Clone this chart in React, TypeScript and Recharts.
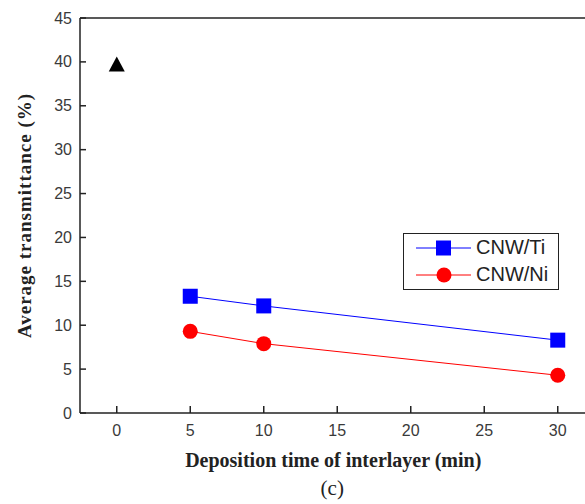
import { ComposedChart, Line, Scatter, XAxis, YAxis, ReferenceLine, Label } from "recharts";

const xTicks = [0, 5, 10, 15, 20, 25, 30];
const yTicks = [0, 5, 10, 15, 20, 25, 30, 35, 40, 45];

const times = [5, 10, 30];
const tiValues = [13.3, 12.2, 8.3];
const niValues = [9.3, 7.9, 4.3];

const bareTime = [0];
const bareValue = [39.6];

const tiData = times.map((t, i) => ({ x: t, y: tiValues[i] }));
const niData = times.map((t, i) => ({ x: t, y: niValues[i] }));
const bareData = bareTime.map((t, i) => ({ x: t, y: bareValue[i] }));

const tickFont = { fontFamily: "'Liberation Sans', Arial, sans-serif", fontSize: 16, fill: "#3a3a3a" };
const serif = "'Liberation Serif', 'Times New Roman', serif";

const YTick = (props: any) => {
  const { x, y, payload } = props;
  return (
    <g>
      <line x1={x} y1={y} x2={x + 6} y2={y} stroke="#222" strokeWidth={1.5} />
      <text x={x - 8} y={y} textAnchor="end" dominantBaseline="central" {...tickFont}>
        {payload.value}
      </text>
    </g>
  );
};

const XTick = (props: any) => {
  const { x, y, payload } = props;
  return (
    <g>
      <line x1={x} y1={y} x2={x} y2={y - 7} stroke="#222" strokeWidth={1.5} />
      <text x={x} y={y + 17} textAnchor="middle" dominantBaseline="central" {...tickFont}>
        {payload.value}
      </text>
    </g>
  );
};

const SquareDot = (props: any) => {
  const { cx, cy } = props;
  if (cx == null || cy == null) return null;
  return <rect x={cx - 7.5} y={cy - 7.5} width={15} height={15} fill="#0000ff" />;
};

const CircleDot = (props: any) => {
  const { cx, cy } = props;
  if (cx == null || cy == null) return null;
  return <circle cx={cx} cy={cy} r={7.5} fill="#ff0000" />;
};

const TriangleDot = (props: any) => {
  const { cx, cy } = props;
  if (cx == null || cy == null) return null;
  return <polygon points={`${cx},${cy - 9} ${cx - 8},${cy + 6} ${cx + 8},${cy + 6}`} fill="#000" />;
};

const LegendBox = () => (
  <div
    style={{
      position: "absolute",
      left: 403,
      top: 233,
      width: 156,
      height: 57,
      border: "1.5px solid #222",
      background: "#fff",
      boxSizing: "border-box",
      fontFamily: "'Liberation Sans', Arial, sans-serif",
      fontSize: 20,
      color: "#222",
    }}
  >
    <div style={{ display: "flex", alignItems: "center", height: 27, marginTop: 0 }}>
      <svg width={72} height={20}>
        <line x1={12} y1={10} x2={67} y2={10} stroke="#0000ff" strokeWidth={1} />
        <rect x={32} y={2.5} width={15} height={15} fill="#0000ff" />
      </svg>
      <span>CNW/Ti</span>
    </div>
    <div style={{ display: "flex", alignItems: "center", height: 27 }}>
      <svg width={72} height={20}>
        <line x1={12} y1={10} x2={67} y2={10} stroke="#ff0000" strokeWidth={1} />
        <circle cx={40} cy={10} r={7.5} fill="#ff0000" />
      </svg>
      <span>CNW/Ni</span>
    </div>
  </div>
);

export default function App() {
  return (
    <div style={{ position: "relative", width: 585, height: 504, overflow: "hidden", background: "#fff" }}>
      <style>{`body{margin:0;}`}</style>
      <ComposedChart width={600} height={504} margin={{ top: 18, right: 5.5, left: 0, bottom: 61 }}>
        <XAxis
          type="number"
          dataKey="x"
          domain={[-2.5, 32.5]}
          ticks={xTicks}
          allowDataOverflow
          tickLine={false}
          tickSize={0}
          tickMargin={0}
          height={30}
          tick={<XTick />}
          axisLine={{ stroke: "#222", strokeWidth: 1.5 }}
        >
          <Label
            value="Deposition time of interlayer (min)"
            position="bottom"
            offset={10}
            dx={-4}
            style={{ fontFamily: serif, fontWeight: "bold", fontSize: 20, fill: "#222" }}
          />
          <Label
            value="(c)"
            position="bottom"
            offset={37}
            dx={-5}
            style={{ fontFamily: serif, fontSize: 21, fill: "#222" }}
          />
        </XAxis>
        <YAxis
          type="number"
          dataKey="y"
          domain={[0, 45]}
          ticks={yTicks}
          width={80}
          tickLine={false}
          tickSize={0}
          tickMargin={0}
          tick={<YTick />}
          axisLine={{ stroke: "#222", strokeWidth: 1.5 }}
        >
          <Label
            value="Average transmittance (%)"
            angle={-90}
            position="center"
            dx={-16}
            style={{ fontFamily: serif, fontWeight: "bold", fontSize: 19, fill: "#222", letterSpacing: 1 }}
          />
        </YAxis>
        <ReferenceLine y={45} stroke="#222" strokeWidth={1.5} />
        <Scatter name="CNW" data={bareData} shape={<TriangleDot />} fill="#000" isAnimationActive={false} legendType="none" />
        <Line
          name="CNW/Ti"
          data={tiData}
          dataKey="y"
          stroke="#0000ff"
          strokeWidth={1}
          dot={<SquareDot />}
          activeDot={false}
          isAnimationActive={false}
        />
        <Line
          name="CNW/Ni"
          data={niData}
          dataKey="y"
          stroke="#ff0000"
          strokeWidth={1}
          dot={<CircleDot />}
          activeDot={false}
          isAnimationActive={false}
        />
      </ComposedChart>
      <LegendBox />
    </div>
  );
}
